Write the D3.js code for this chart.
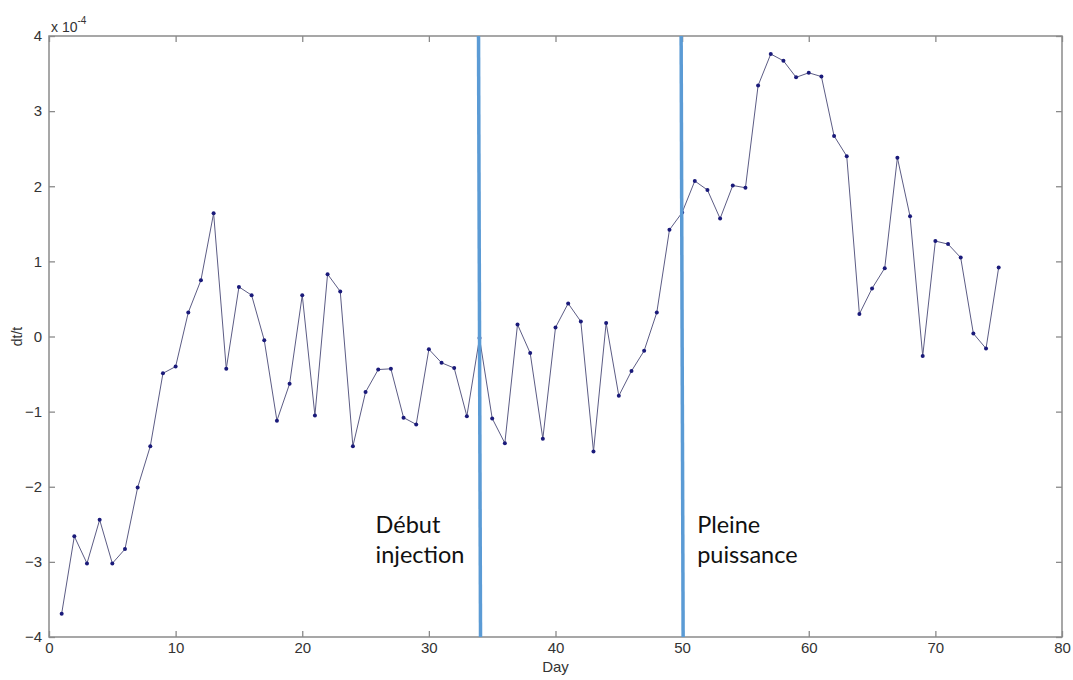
<!DOCTYPE html>
<html><head><meta charset="utf-8">
<script src="https://cdn.jsdelivr.net/npm/d3@7"></script>
<style>body{margin:0;background:#fff}svg{display:block}</style>
</head><body>
<svg id="c" width="1073" height="680"></svg>
<script>
const days = d3.range(1, 76);
const values = [-3.69,-2.66,-3.02,-2.44,-3.02,-2.83,-2.01,-1.46,-0.49,-0.40,
 0.32,0.75,1.64,-0.43,0.66,0.55,-0.05,-1.12,-0.63,0.55,
 -1.05,0.83,0.60,-1.46,-0.74,-0.44,-0.43,-1.08,-1.17,-0.17,
 -0.35,-0.42,-1.06,-0.02,-1.09,-1.42,0.16,-0.22,-1.36,0.12,
 0.44,0.20,-1.53,0.18,-0.79,-0.46,-0.19,0.32,1.42,1.65,
 2.07,1.95,1.57,2.01,1.98,3.34,3.76,3.67,3.45,3.51,
 3.46,2.67,2.40,0.30,0.64,0.91,2.38,1.60,-0.26,1.27,
 1.23,1.05,0.04,-0.16,0.92];
const xTicks = [0,10,20,30,40,50,60,70,80];
const yTicks = [-4,-3,-2,-1,0,1,2,3,4];
const markerDays = [34, 50];
const annotations = [
  {day: 34, lines: ["Début", "injection"], side: "left"},
  {day: 50, lines: ["Pleine", "puissance"], side: "right"}
];

const svg = d3.select("#c");
const L = 49, R = 1062, T = 36, B = 637;
const x = d3.scaleLinear().domain([0, 80]).range([L, R]);
const y = d3.scaleLinear().domain([-4, 4]).range([B, T]);
const axisColor = "#8a8a8a";
const font = "'Liberation Sans', Arial, sans-serif";

// box
svg.append("rect").attr("x", L).attr("y", T).attr("width", R - L).attr("height", B - T)
  .attr("fill", "none").attr("stroke", axisColor).attr("stroke-width", 1.5);

// axes with inward ticks
const xb = svg.append("g").attr("transform", `translate(0,${B})`)
  .call(d3.axisBottom(x).tickValues(xTicks).tickSizeInner(-6).tickSizeOuter(0).tickPadding(9));
const xt = svg.append("g").attr("transform", `translate(0,${T})`)
  .call(d3.axisTop(x).tickValues(xTicks).tickSizeInner(-6).tickSizeOuter(0).tickFormat(""));
const yl = svg.append("g").attr("transform", `translate(${L},0)`)
  .call(d3.axisLeft(y).tickValues(yTicks).tickSizeInner(-6).tickSizeOuter(0).tickPadding(9));
const yr = svg.append("g").attr("transform", `translate(${R},0)`)
  .call(d3.axisRight(y).tickValues(yTicks).tickSizeInner(-6).tickSizeOuter(0).tickFormat(""));
[xb, xt, yl, yr].forEach(g => {
  g.select(".domain").remove();
  g.selectAll(".tick line").attr("stroke", axisColor).attr("stroke-width", 1.3);
  g.selectAll("text").attr("fill", "#333").attr("font-family", font).attr("font-size", 15);
});
xb.selectAll(".tick text").attr("dy", "0.45em");
yl.selectAll(".tick text").attr("dx", "2");

// exponent
const ex = svg.append("text").attr("x", L + 2).attr("y", T - 4)
  .attr("font-family", font).attr("font-size", 14).attr("fill", "#333");
ex.append("tspan").text("x 10");
ex.append("tspan").attr("dy", -8).attr("font-size", 10).text("-4");

// axis labels
svg.append("text").attr("x", (L + R) / 2).attr("y", 672).attr("text-anchor", "middle")
  .attr("font-family", font).attr("font-size", 15).attr("fill", "#333").text("Day");
svg.append("text").attr("transform", `translate(22,${y(0)}) rotate(-90)`).attr("text-anchor", "middle")
  .attr("font-family", font).attr("font-size", 14).attr("fill", "#333").text("dt/t");

// data line
const pts = days.map((d, i) => [d, values[i]]);
svg.append("path").datum(pts)
  .attr("d", d3.line().x(d => x(d[0])).y(d => y(d[1])))
  .attr("fill", "none").attr("stroke", "#5c5c85").attr("stroke-width", 1);
svg.append("g").selectAll("circle").data(pts).join("circle")
  .attr("cx", d => x(d[0])).attr("cy", d => y(d[1])).attr("r", 2)
  .attr("fill", "#1a1a7a");

// vertical markers
svg.append("g").selectAll("line").data(markerDays).join("line")
  .attr("x1", d => x(d) - 1).attr("x2", d => x(d) + 1)
  .attr("y1", T).attr("y2", B)
  .attr("stroke", "#5b9bd5").attr("stroke-width", 3.5);

// annotations
annotations.forEach(a => {
  const tx = a.side === "left" ? x(a.day) - 104 : x(a.day) + 15;
  const t = svg.append("text").attr("x", tx).attr("y", 533)
    .attr("font-family", "Lato, 'Open Sans', sans-serif").attr("font-size", 23.5).attr("fill", "#111");
  a.lines.forEach((ln, i) => t.append("tspan").attr("x", tx).attr("dy", i ? 30 : 0).text(ln));
});
</script>
</body></html>
